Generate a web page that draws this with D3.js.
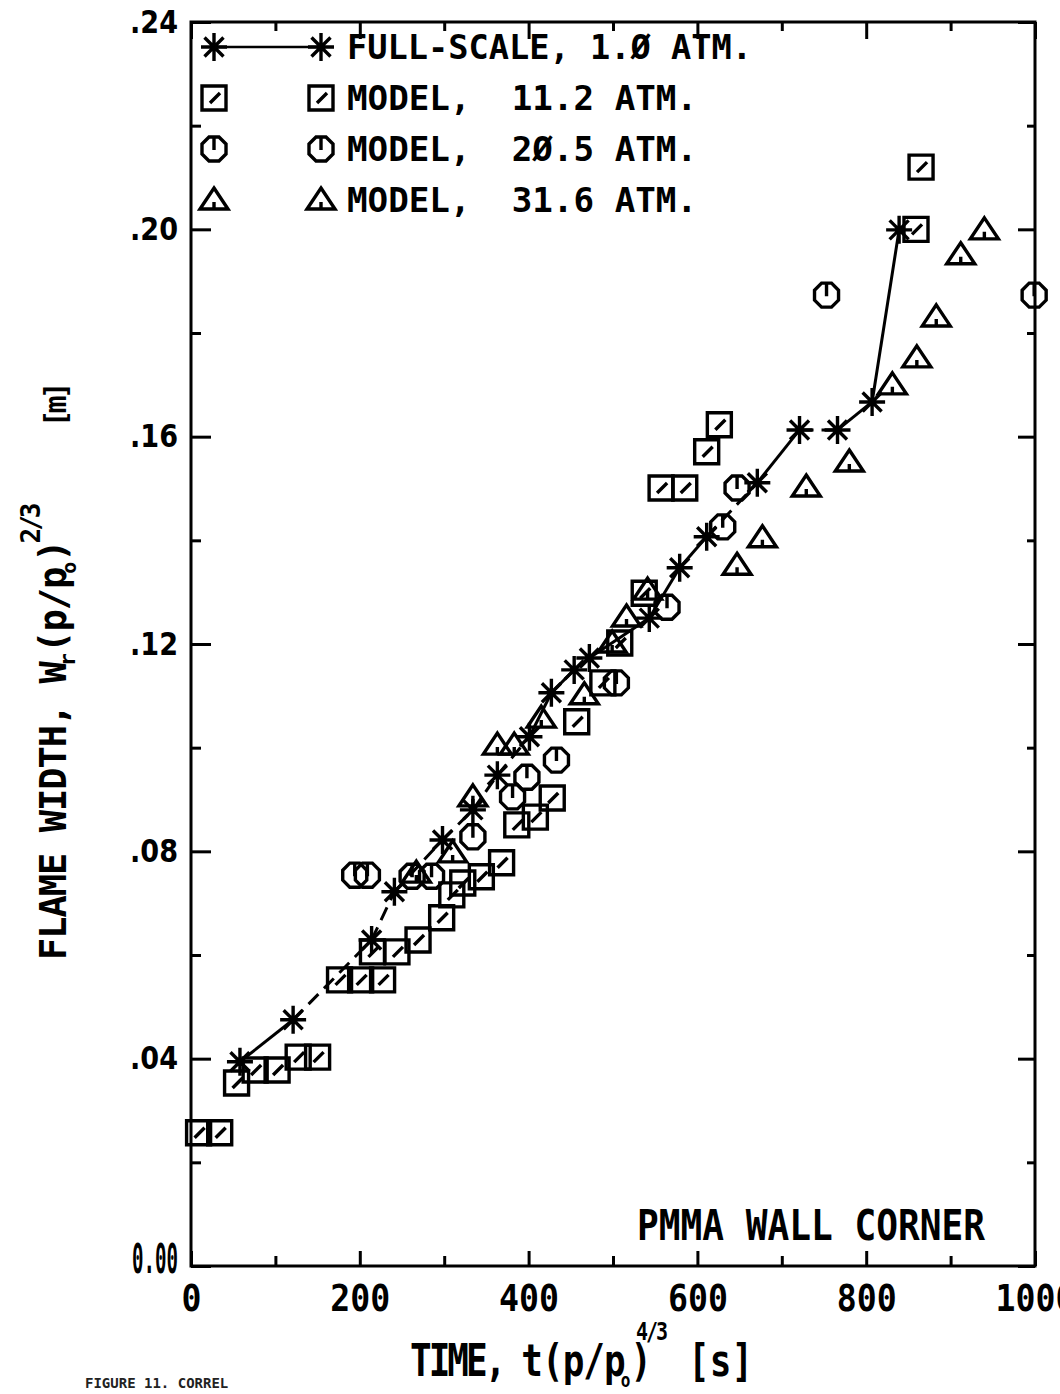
<!DOCTYPE html>
<html>
<head>
<meta charset="utf-8">
<script src="https://cdn.jsdelivr.net/npm/d3@7"></script>
<style>
body { margin: 0; background: #fff; }
svg { display: block; }
</style>
</head>
<body>
<div id="chart"></div>
<script>
// values: time t(p/p0)^4/3 [s], flame width [m]
var fullTime  = [58, 121, 214, 241, 298, 334, 363, 401, 427, 454, 472, 543, 579, 611, 671, 721, 766, 807, 839];
var fullWidth = [0.0394, 0.0475, 0.0629, 0.0722, 0.0822, 0.0880, 0.0947, 0.1021, 0.1106, 0.1150, 0.1173,
                 0.1250, 0.1347, 0.1407, 0.1511, 0.1613, 0.1613, 0.1667, 0.1999];

var m112Time  = [9, 34, 54, 76, 102, 127, 150, 176, 201, 227, 215, 244, 269, 297, 309, 322, 344, 368, 386, 408,
                 428, 457, 488, 508, 537, 557, 585, 611, 626, 859, 865];
var m112Width = [0.0257, 0.0257, 0.0353, 0.0378, 0.0378, 0.0403, 0.0403, 0.0552, 0.0552, 0.0552, 0.0606, 0.0606,
                 0.0629, 0.0672, 0.0716, 0.0739, 0.0751, 0.0778, 0.0851, 0.0866, 0.0903, 0.1050, 0.1125, 0.1202,
                 0.1298, 0.1501, 0.1501, 0.1571, 0.1623, 0.2000, 0.2120];

var m205Time  = [194, 209, 262, 285, 334, 381, 398, 433, 504, 564, 630, 647, 753, 999];
var m205Width = [0.0754, 0.0754, 0.0752, 0.0752, 0.0828, 0.0905, 0.0943, 0.0976, 0.1125, 0.1271, 0.1426,
                 0.1501, 0.1873, 0.1873];

var m316Time  = [267, 310, 334, 363, 383, 415, 466, 499, 516, 541, 647, 677, 729, 780, 831, 860, 883, 912, 940];
var m316Width = [0.0758, 0.0797, 0.0905, 0.1005, 0.1005, 0.1057, 0.1102, 0.1202, 0.1252, 0.1304, 0.1352,
                 0.1405, 0.1503, 0.1551, 0.1700, 0.1752, 0.1831, 0.1951, 0.1999];

var legendLabels = ["FULL-SCALE, 1.\u00D8 ATM.", "MODEL,  11.2 ATM.", "MODEL,  2\u00D8.5 ATM.", "MODEL,  31.6 ATM."];
var xMajorTicks = [0, 200, 400, 600, 800, 1000];
var xMinorTicks = [100, 300, 500, 700, 900];
var yMajorTicks = [0, 0.04, 0.08, 0.12, 0.16, 0.20, 0.24];
var yMinorTicks = [0.02, 0.06, 0.10, 0.14, 0.18, 0.22];

// which segments of the full-scale curve are drawn dashed
var dashedSegments = [1, 2, 3, 4, 5, 6, 13, 15];

var W = 1060, H = 1394;
var mono = "'DejaVu Sans Mono', monospace";

var svg = d3.select("#chart").append("svg")
    .attr("width", W)
    .attr("height", H);

var x = d3.scaleLinear().domain([0, 1000]).range([191, 1035]);
var y = d3.scaleLinear().domain([0, 0.24]).range([1266, 22]);

// marker shapes, centred on 0,0
var octagon = d3.range(8).map(function(i) {
  var a = Math.PI / 8 + i * Math.PI / 4;
  return [13 * Math.cos(a), 13 * Math.sin(a)];
});
var shapes = {
  star: "M-13,0H13M0,-14V14M-9.5,-9.5L9.5,9.5M-9.5,9.5L9.5,-9.5",
  square: "M-12,-12H12V12H-12ZM-4,5L6,-5",
  circle: "M" + octagon.join("L") + "ZM0,-13V1",
  triangle: "M0,-12L14,9H-14ZM0,9V2"
};

function drawMarkers(g, xs, ys, shape) {
  g.selectAll(null)
    .data(xs.map(function(d, i) { return [d, ys[i]]; }))
    .enter().append("path")
      .attr("transform", function(d) { return "translate(" + x(d[0]) + "," + y(d[1]) + ")"; })
      .attr("d", shapes[shape])
      .attr("fill", "none")
      .attr("stroke", "#000")
      .attr("stroke-width", 3.4);
}

// frame
svg.append("rect")
    .attr("x", x(0)).attr("y", y(0.24))
    .attr("width", x(1000) - x(0)).attr("height", y(0) - y(0.24))
    .attr("fill", "none").attr("stroke", "#000").attr("stroke-width", 3);

// ticks (all inward)
function tickAxis(axis, tr, size, vals) {
  var g = svg.append("g").attr("transform", tr)
      .call(axis.tickValues(vals).tickSize(size).tickFormat(""));
  g.select(".domain").remove();
  g.selectAll("line").attr("stroke-width", 3);
  return g;
}
tickAxis(d3.axisBottom(x), "translate(0," + y(0) + ")", -15, xMajorTicks);
tickAxis(d3.axisBottom(x), "translate(0," + y(0) + ")", -10, xMinorTicks);
tickAxis(d3.axisTop(x), "translate(0," + y(0.24) + ")", -17, xMajorTicks);
tickAxis(d3.axisTop(x), "translate(0," + y(0.24) + ")", -9, xMinorTicks);
tickAxis(d3.axisLeft(y), "translate(" + x(0) + ",0)", -20, yMajorTicks);
tickAxis(d3.axisLeft(y), "translate(" + x(0) + ",0)", -10, yMinorTicks);
tickAxis(d3.axisRight(y), "translate(" + x(1000) + ",0)", -17, yMajorTicks);
tickAxis(d3.axisRight(y), "translate(" + x(1000) + ",0)", -8, yMinorTicks);

// tick labels
var xLab = svg.append("g")
    .attr("transform", "translate(0," + y(0) + ")")
    .call(d3.axisBottom(x).tickValues(xMajorTicks).tickSize(0).tickPadding(19).tickFormat(d3.format("d")));
xLab.select(".domain").remove();
xLab.selectAll("text")
    .attr("font-family", mono).attr("font-size", 37).attr("font-weight", "bold").attr("fill", "#000")
    .attr("textLength", function(d) { return String(d).length * 20; })
    .attr("lengthAdjust", "spacingAndGlyphs");

var yLab = svg.append("g")
    .attr("transform", "translate(" + x(0) + ",0)")
    .call(d3.axisLeft(y).tickValues(yMajorTicks).tickSize(0).tickPadding(13)
      .tickFormat(function(d) { return d === 0 ? "0.00" : d3.format(".2f")(d).slice(1); }));
yLab.select(".domain").remove();
yLab.selectAll("text")
    .attr("font-family", "'DejaVu Sans', sans-serif").attr("font-size", 32).attr("font-weight", "bold")
    .attr("fill", "#000")
    .attr("textLength", 48).attr("lengthAdjust", "spacingAndGlyphs");
yLab.selectAll("text").filter(function(d) { return d === 0; })
    .attr("font-family", mono).attr("font-size", 40)
    .attr("textLength", 46)
    .attr("dy", "0.15em");

// full-scale curve, segment by segment
var segs = fullTime.slice(1).map(function(d, i) {
  return [[fullTime[i], fullWidth[i]], [d, fullWidth[i + 1]]];
});
svg.append("g").selectAll("line")
  .data(segs)
  .enter().append("line")
    .attr("x1", function(d) { return x(d[0][0]); })
    .attr("y1", function(d) { return y(d[0][1]); })
    .attr("x2", function(d) { return x(d[1][0]); })
    .attr("y2", function(d) { return y(d[1][1]); })
    .attr("stroke", "#000")
    .attr("stroke-width", 3)
    .attr("stroke-dasharray", function(d, i) { return dashedSegments.indexOf(i) >= 0 ? "14,8" : null; });

drawMarkers(svg.append("g"), m112Time, m112Width, "square");
drawMarkers(svg.append("g"), m205Time, m205Width, "circle");
drawMarkers(svg.append("g"), m316Time, m316Width, "triangle");
drawMarkers(svg.append("g"), fullTime, fullWidth, "star");

// legend
var legShapes = ["star", "square", "circle", "triangle"];
var legWidths = [405, 350, 350, 350];
var leg = svg.append("g");
legendLabels.forEach(function(lab, i) {
  var cy = 47 + i * 51;
  var row = leg.append("g").attr("transform", "translate(0," + cy + ")");
  if (i === 0) {
    row.append("line").attr("x1", 215).attr("x2", 322).attr("y1", 0).attr("y2", 0)
      .attr("stroke", "#000").attr("stroke-width", 2.5);
  }
  [214, 321].forEach(function(px) {
    row.append("path").attr("transform", "translate(" + px + ",0)")
      .attr("d", shapes[legShapes[i]])
      .attr("fill", "none").attr("stroke", "#000").attr("stroke-width", 3.4);
  });
  row.append("text")
    .attr("x", 347).attr("y", 12)
    .attr("font-family", mono).attr("font-size", 34).attr("font-weight", "bold")
    .attr("textLength", legWidths[i]).attr("lengthAdjust", "spacingAndGlyphs")
    .style("white-space", "pre")
    .text(lab);
});

// annotation
svg.append("text")
    .attr("x", 637).attr("y", 1240)
    .attr("font-family", mono).attr("font-size", 42).attr("font-weight", "bold")
    .attr("textLength", 348).attr("lengthAdjust", "spacingAndGlyphs")
    .text("PMMA WALL CORNER");

// x axis title: one text, sub/superscripts as tspans, stretched a bit vertically
var xt = svg.append("text")
    .attr("transform", "translate(410,1376) scale(1,1.25)")
    .attr("font-family", mono).attr("font-size", 36).attr("font-weight", "bold")
    .style("white-space", "pre");
xt.append("tspan").style("letter-spacing", "-3px").text("TIME,");
xt.append("tspan").attr("dx", 18).style("letter-spacing", "-1px").text("t(p/p");
xt.append("tspan").attr("dx", -4).attr("dy", 9).attr("font-size", 16).text("o");
xt.append("tspan").attr("dy", -9).text(")");
xt.append("tspan").attr("dx", -16).attr("dy", -29).attr("font-size", 20).style("letter-spacing", "-2px").text("4/3");
xt.append("tspan").attr("dx", 22).attr("dy", 29).text("[s]");

// y axis title (rotated)
var yt = svg.append("text")
    .attr("transform", "translate(66,960) rotate(-90)")
    .attr("font-family", mono).attr("font-size", 37).attr("font-weight", "bold")
    .style("white-space", "pre");
yt.append("tspan").style("letter-spacing", "-1px").text("FLAME WIDTH, W");
yt.append("tspan").attr("dy", 9).attr("dx", -4).attr("font-size", 22).text("r");
yt.append("tspan").attr("dy", -9).style("letter-spacing", "-1px").text("(p/p");
yt.append("tspan").attr("dy", 10).attr("dx", -6).attr("font-size", 20).text("o");
yt.append("tspan").attr("dy", -10).text(")");
yt.append("tspan").attr("dy", -26).attr("dx", -4).attr("font-size", 26).style("letter-spacing", "-3px").text("2/3");
yt.append("tspan").attr("dy", 26).attr("dx", 78).attr("font-size", 30).style("letter-spacing", "-4px").text("[m]");

// caption line at the page bottom
svg.append("text")
    .attr("x", 85).attr("y", 1388)
    .attr("font-family", mono).attr("font-size", 14).attr("font-weight", "bold").attr("fill", "#222")
    .text("FIGURE 11. CORREL");
</script>
</body>
</html>
